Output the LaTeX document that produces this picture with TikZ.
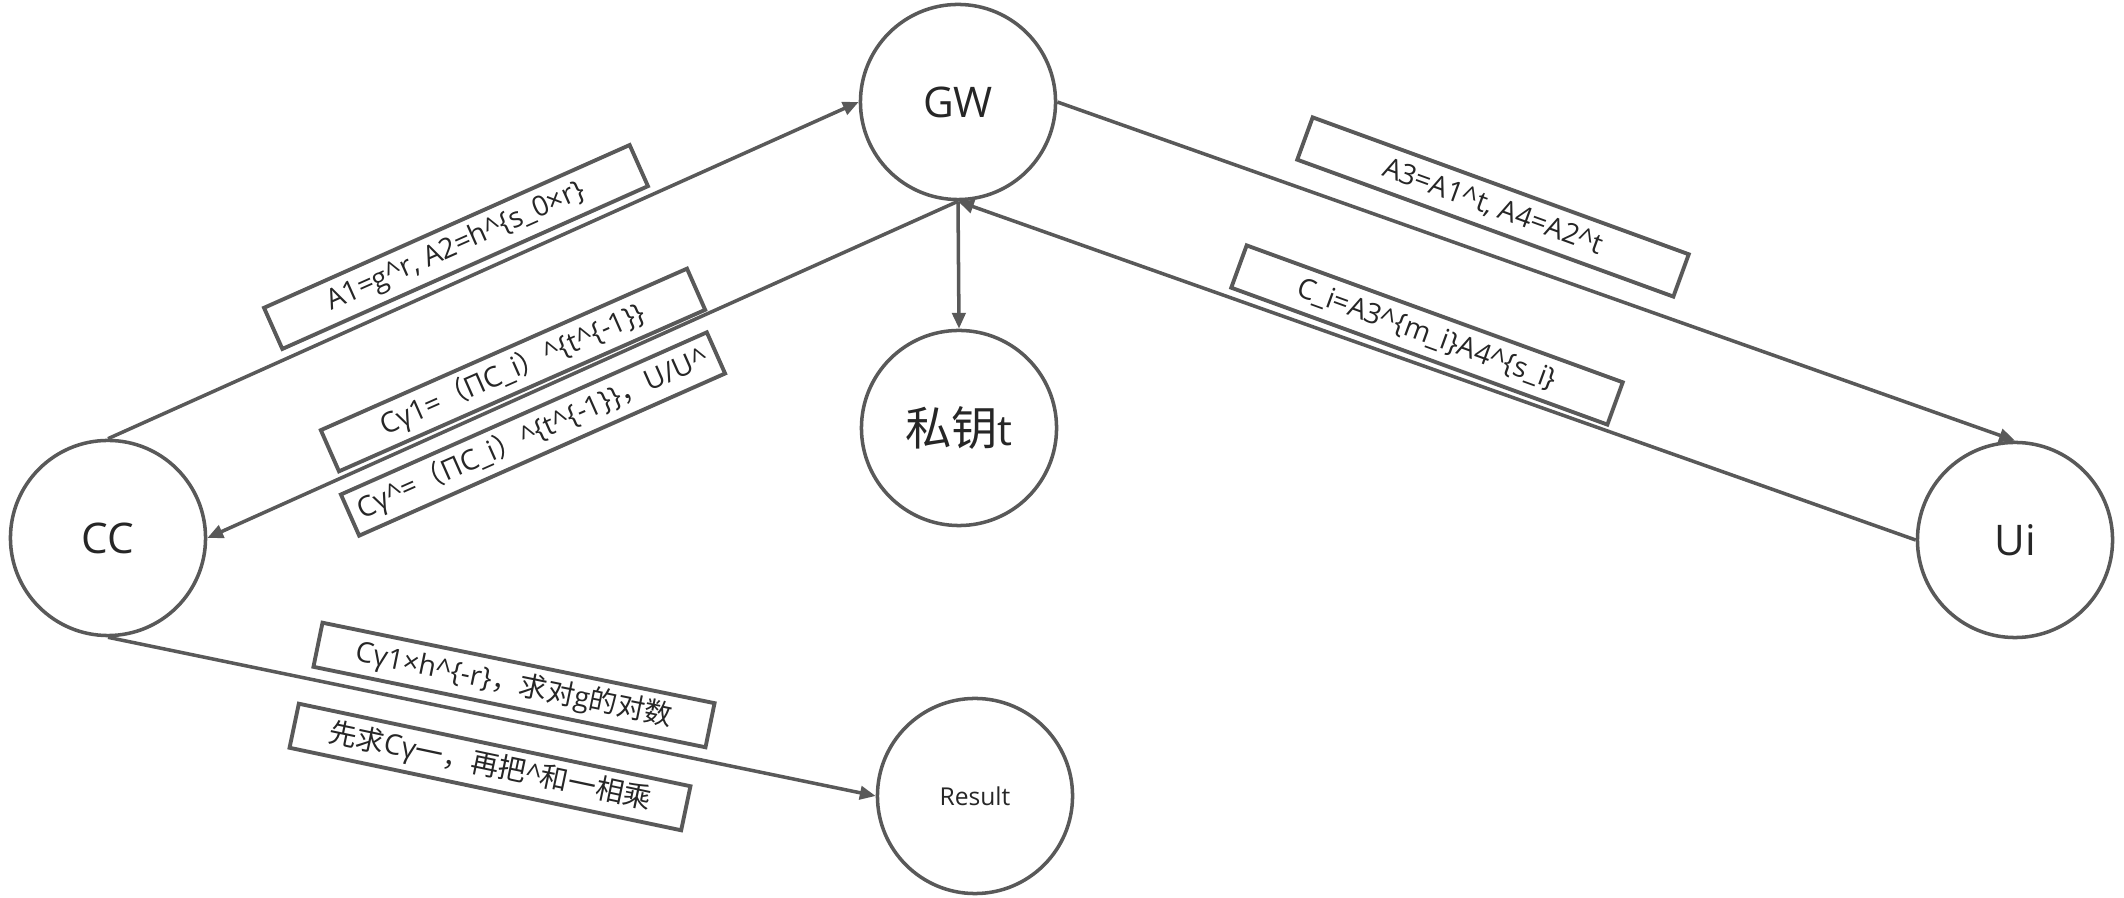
\documentclass[tikz,border=0pt]{standalone}
\usepackage{fontspec}
\setmainfont{Open Sans}
\newfontfamily\cjk{Noto Sans CJK SC}
\usetikzlibrary{arrows.meta}
\definecolor{edge}{HTML}{595959}
\definecolor{ink}{HTML}{262626}
\newcommand{\hc}{\textasciicircum}
\begin{document}
\begin{tikzpicture}[x=0.01cm,y=-0.01cm,
  state/.style={circle, draw=edge, line width=1pt, minimum size=1.95cm, inner sep=0pt,
    text=ink, font=\fontsize{12}{14}\selectfont},
  lbl/.style={draw=edge, line width=1.1pt, minimum width=4cm, minimum height=0.45cm,
    inner sep=0pt, text=ink, font=\fontsize{8}{10}\selectfont},
  flow/.style={draw=edge, line width=1pt, -{Triangle[length=4.5pt,width=3.8pt]}}]
\useasboundingbox (0,0) rectangle (2124,898);
\node[state] (GW) at (958,102) {GW};
\node[state] (key) at (959,428) {{\cjk\fontsize{13.2}{15}\selectfont 私钥}t};
\node[state] (CC) at (108,538) {CC};
\node[state] (Ui) at (2015,540) {Ui};
\node[state, font=\fontsize{7}{9}\selectfont] (Res) at (975,796) {Result};
\draw[flow] (CC.north) -- (GW.west);
\draw[flow] (GW.east) -- (Ui.north);
\draw[flow] (Ui.west) -- (GW.south);
\draw[flow] (GW.south) -- (CC.east);
\draw[flow] (GW.south) -- (key.north);
\draw[flow] (CC.south) -- (Res.west);
\node[lbl, rotate=24] (l1) at (456,247) {A1=g\hc r, A2=h\hc\{s\_0×r\}};
\node[lbl, rotate=23.8] (l2) at (513,370) {Cγ1={\cjk （}ΠC\_i{\cjk ）}\hc\{t\hc\{-1\}\}};
\node[lbl, rotate=23.9] (l3) at (533,434) {Cγ\hc={\cjk （}ΠC\_i{\cjk ）}\hc\{t\hc\{-1\}\}{\cjk ，}U/U\hc};
\node[lbl, rotate=-20] (l4) at (1493,207) {A3=A1\hc t, A4=A2\hc t};
\node[lbl, rotate=-20] (l5) at (1427,335) {C\_i=A3\hc\{m\_i\}A4\hc\{s\_i\}};
\node[lbl, rotate=-11.6] (l6) at (514,685) {Cγ1×h\hc\{-r\}{\cjk ，求对}g{\cjk 的对数}};
\node[lbl, rotate=-11.9] (l7) at (490,767) {{\cjk 先求}Cγ{\cjk 一，再把}\hc{\cjk 和一相乘}};
\end{tikzpicture}
\end{document}
